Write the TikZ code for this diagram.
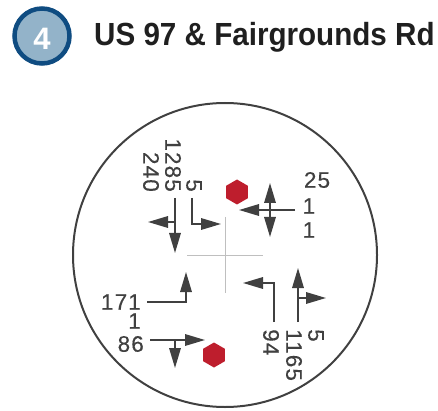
\documentclass[tikz,border=0pt]{standalone}
\usepackage{fontspec}
\setmainfont{Liberation Sans}
\newfontfamily\titlefont[FakeStretch=0.925]{Liberation Sans}
\newfontfamily\cntfont[LetterSpace=5,FakeBold=0.35]{Liberation Sans}
\usetikzlibrary{arrows.meta,shapes.geometric}
\definecolor{ink}{HTML}{404040}
\definecolor{ringblue}{HTML}{0F4C81}
\definecolor{badgeblue}{HTML}{93B3C9}
\definecolor{stopred}{HTML}{BE1E2D}

\begin{document}
\begin{tikzpicture}[
  x=1pt,y=-1pt,
  mv/.style={-{Triangle[length=20pt,width=11.5pt]},ink,line width=1.7pt},
  cnt/.style={text=ink,inner sep=0pt,font=\fontsize{22.5}{23}\cntfont},
  cntd/.style={cnt,rotate=-90},
  stopsign/.style={regular polygon,regular polygon sides=6,shape border rotate=30,fill=stopred,minimum size=25pt,inner sep=0pt},
  guide/.style={black!25,line width=1pt}
]
  \useasboundingbox (0,0) rectangle (438,411);

  \node[circle,draw=ringblue,fill=badgeblue,line width=4.5pt,minimum size=55pt,inner sep=0pt,text=white,text height=28pt,text depth=0pt,font=\fontsize{31}{31}\selectfont\bfseries] (badge) at (42,36) {4};
  \node[anchor=base west,inner sep=0pt,text=black!88,font=\fontsize{32}{32}\titlefont\bfseries] (title) at (94,46) {US 97 \& Fairgrounds Rd};

  \node[circle,draw=ink,line width=2pt,minimum size=304pt,inner sep=0pt] (ring) at (225,255) {};

  % crosshair
  \coordinate (cw) at (187,255);
  \coordinate (ce) at (263,255);
  \coordinate (cn) at (225,217);
  \coordinate (cs) at (225,293);
  \draw[guide] (cw)--(ce);
  \draw[guide] (cn)--(cs);

  \node[stopsign] (stopn) at (237,192) {};
  \node[stopsign] (stops) at (214,355) {};

  % north leg
  \coordinate (n1) at (175,198);
  \coordinate (n1b) at (175,222);
  \coordinate (n1t) at (175,253);
  \coordinate (n1l) at (148,222);
  \coordinate (n2) at (192,198);
  \coordinate (n2b) at (192,224);
  \coordinate (n2t) at (221,224);
  \draw[mv] (n1)--(n1t);
  \draw[mv] (n1b)--(n1l);
  \draw[mv] (n2)--(n2b)--(n2t);
  \node[cntd,anchor=east] (n240) at (151,192) {240};
  \node[cntd,anchor=east] (n1285) at (173,192) {1285};
  \node[cntd,anchor=east] (n5) at (194,192) {5};

  % east leg
  \coordinate (e1) at (295,210);
  \coordinate (e1b) at (270,210);
  \coordinate (e1t) at (239,210);
  \coordinate (e1u) at (270,183);
  \coordinate (e1d) at (270,237);
  \draw[mv] (e1)--(e1t);
  \draw[mv] (e1b)--(e1u);
  \draw[mv] (e1b)--(e1d);
  \node[cnt] (e25) at (317,180) {25};
  \node[cnt] (e1a) at (309,206) {1};
  \node[cnt] (e1c) at (309,230) {1};

  % west leg
  \coordinate (w1) at (147,302);
  \coordinate (w1b) at (186,302);
  \coordinate (w1t) at (186,272);
  \coordinate (w2) at (150,340);
  \coordinate (w2b) at (175,340);
  \coordinate (w2t) at (205,340);
  \coordinate (w2d) at (175,368);
  \draw[mv] (w1)--(w1b)--(w1t);
  \draw[mv] (w2)--(w2t);
  \draw[mv] (w2b)--(w2d);
  \node[cnt,anchor=east] (w171) at (141,302) {171};
  \node[cnt,anchor=east] (w1a) at (141,321) {1};
  \node[cnt,anchor=east] (w86) at (144,344) {86};

  % south leg
  \coordinate (s1) at (274,322);
  \coordinate (s1b) at (274,283);
  \coordinate (s1t) at (243,283);
  \coordinate (s2) at (298,322);
  \coordinate (s2b) at (298,298);
  \coordinate (s2t) at (298,268);
  \coordinate (s2r) at (326,298);
  \draw[mv] (s1)--(s1b)--(s1t);
  \draw[mv] (s2)--(s2t);
  \draw[mv] (s2b)--(s2r);
  \node[cntd,anchor=west] (s94) at (271,329) {94};
  \node[cntd,anchor=west] (s1165) at (294,329) {1165};
  \node[cntd,anchor=west] (s5) at (316,329) {5};
\end{tikzpicture}
\end{document}
